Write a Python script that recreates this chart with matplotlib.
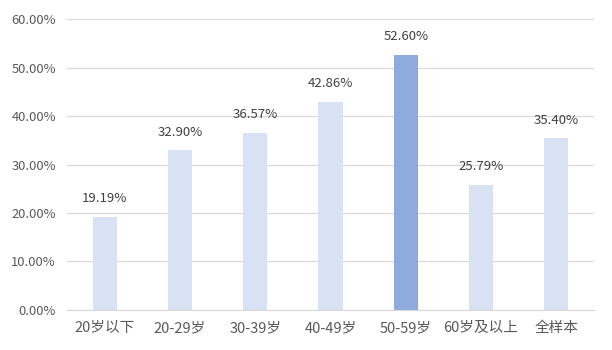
import matplotlib
matplotlib.use("Agg")
import matplotlib.pyplot as plt
from matplotlib.ticker import FuncFormatter

plt.rcParams['font.family'] = ['Noto Sans CJK SC', 'DejaVu Sans']

categories = ["20岁以下", "20-29岁", "30-39岁", "40-49岁", "50-59岁", "60岁及以上", "全样本"]
values = [19.19, 32.90, 36.57, 42.86, 52.60, 25.79, 35.40]
highlight = "50-59岁"

light = "#D9E2F3"
dark = "#8FAADC"
text_color = "#595959"

fig = plt.figure(figsize=(6.12, 3.5), dpi=100)
ax = fig.add_axes([0.1095, 0.1143, 0.861, 0.8314])

x = list(range(len(categories)))
colors = [dark if c == highlight else light for c in categories]
ax.bar(x, values, width=0.32, color=colors, zorder=2)

for xi, v in zip(x, values):
    ax.text(xi, v + 2.4, f"{v:.2f}%", ha="center", va="bottom", fontsize=9.5, color="#404040")

ax.set_xlim(-0.5, len(categories) - 0.5)
ax.set_ylim(0, 60)
ax.set_yticks(range(0, 61, 10))
ax.yaxis.set_major_formatter(FuncFormatter(lambda v, p: f"{v:.2f}%"))
ax.set_xticks(x)
ax.set_xticklabels(categories)
ax.grid(axis="y", color="#D9D9D9", linewidth=0.9, zorder=0)
for s in ["top", "right", "left"]:
    ax.spines[s].set_visible(False)
ax.spines["bottom"].set_color("#D9D9D9")
ax.tick_params(axis="both", length=0, colors=text_color)
ax.tick_params(axis="x", pad=8, labelsize=10.5)
ax.tick_params(axis="y", pad=8, labelsize=9.3)

fig.savefig("out.png", dpi=100)
